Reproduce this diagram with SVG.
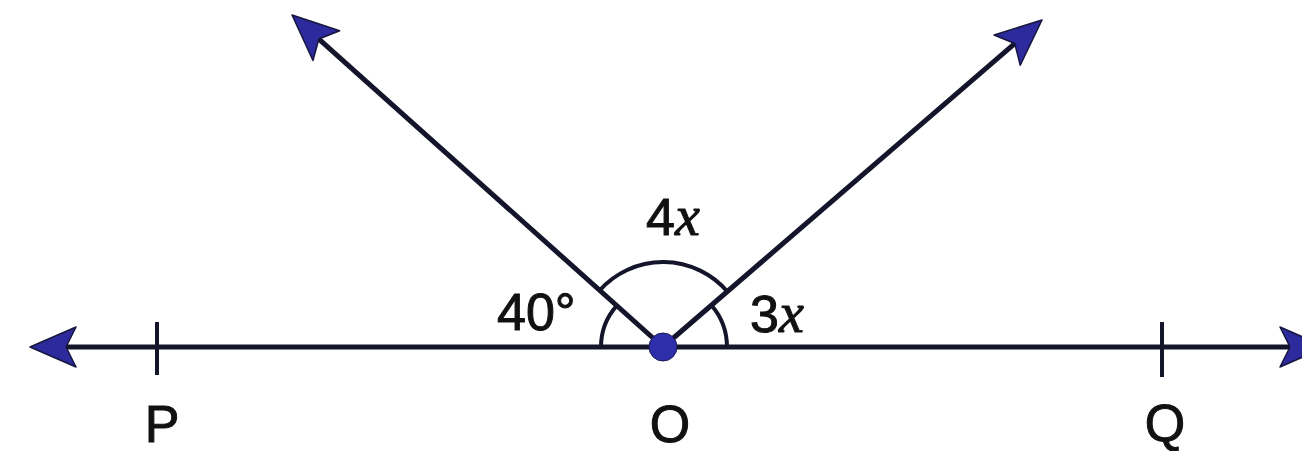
<svg xmlns="http://www.w3.org/2000/svg" width="1302" height="451" viewBox="0 0 1302 451">
  <style>
    .ln { stroke: #14142a; stroke-width: 5; fill: none; stroke-linecap: butt; }
    .arc { stroke: #14142a; stroke-width: 4; fill: none; }
    .tick { stroke: #14142a; stroke-width: 4; }
    .lbl { font-family: "Liberation Sans", Arial, sans-serif; font-size: 52px; fill: #111; stroke: #111; stroke-width: 1; }
    .var { font-family: "Liberation Serif", "Times New Roman", serif; font-style: italic; font-size: 56px; }
  </style>
  <defs>
    <marker id="arrow" markerUnits="userSpaceOnUse" viewBox="-15 -25 55 50" refX="0" refY="0" markerWidth="55" markerHeight="50" orient="auto" overflow="visible">
      <path d="M35,0 L-11,-20 L-1,0 L-11,20 Z" fill="#2c2a9c" stroke="#16163e" stroke-width="1.5" stroke-linejoin="round"/>
    </marker>
  </defs>
  <rect width="1302" height="451" fill="#ffffff"/>

  <g id="connectors">
    <line id="ray-left-line" class="ln" x1="663" y1="347" x2="65" y2="347" marker-end="url(#arrow)"/>
    <line id="ray-right-line" class="ln" x1="663" y1="347" x2="1291" y2="347" marker-end="url(#arrow)"/>
    <line id="ray-upper-left" class="ln" x1="663" y1="347" x2="318.1" y2="38.3" marker-end="url(#arrow)"/>
    <line id="ray-upper-right" class="ln" x1="663" y1="347" x2="1015.5" y2="42.9" marker-end="url(#arrow)"/>
  </g>

  <g id="angle-arcs">
    <path class="arc" d="M599.7,290.3 A85,85 0 0 1 727.3,291.5"/>
    <path class="arc" d="M601,347 A62,62 0 0 1 616.8,305.6"/>
    <path class="arc" d="M711.4,305.2 A64,64 0 0 1 727,347"/>
  </g>

  <g id="node-P">
    <line class="tick" x1="157" y1="322" x2="157" y2="375"/>
    <text class="lbl" x="162" y="442" text-anchor="middle">P</text>
  </g>
  <g id="node-Q">
    <line class="tick" x1="1162" y1="322" x2="1162" y2="377"/>
    <text class="lbl" x="1165" y="441" text-anchor="middle">Q</text>
  </g>
  <g id="node-O">
    <circle cx="663" cy="347" r="14" fill="#2e2eaa" stroke="#1a1a5a" stroke-width="1"/>
    <text class="lbl" x="670" y="442" text-anchor="middle">O</text>
  </g>

  <g id="label-40">
    <text class="lbl" x="497" y="330">40°</text>
  </g>
  <g id="label-4x">
    <text class="lbl" x="646" y="235">4<tspan class="var">x</tspan></text>
  </g>
  <g id="label-3x">
    <text class="lbl" x="750" y="332">3<tspan class="var">x</tspan></text>
  </g>
</svg>
